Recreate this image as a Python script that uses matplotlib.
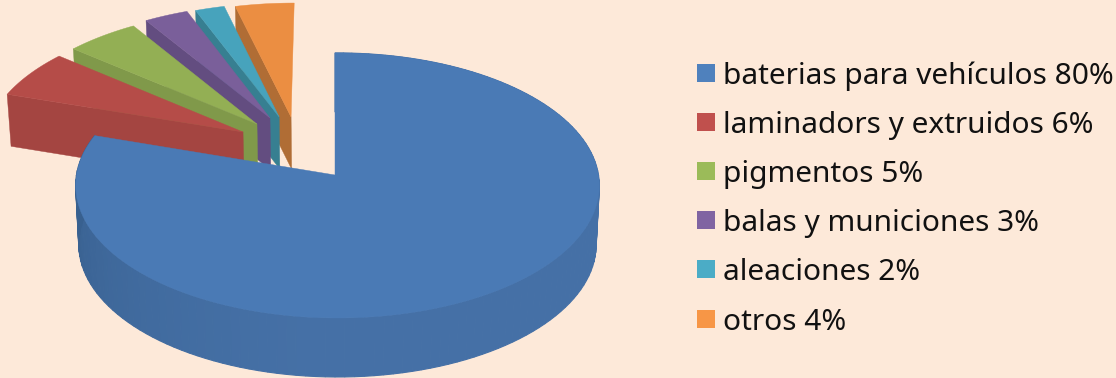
import numpy as np
import matplotlib
matplotlib.use('Agg')
import matplotlib.pyplot as plt
from matplotlib.colors import to_rgb
from matplotlib.patches import Rectangle

labels = ['baterias para vehículos 80%', 'laminadors y extruidos 6%', 'pigmentos 5%',
          'balas y municiones 3%', 'aleaciones 2%', 'otros 4%']
shares = [80, 6, 5, 3, 2, 4]

legend_colors = ['#4F81BD', '#C0504D', '#9BBB59', '#8064A2', '#4BACC6', '#F79646']
top_colors = ['#4A7AB5', '#B54C48', '#93AF54', '#7A5F9A', '#47A3BC', '#EB8E42']
side_colors = ['#4570A6', '#A44541', '#80994A', '#634D80', '#377F91', '#B06D35']

# how far each slice is pulled out, in pie radii (x, y), y goes to the viewer
explode = [(0, 0), (-0.359, -0.335), (-0.306, -0.399), (-0.256, -0.448), (-0.22, -0.456), (-0.173, -0.456)]

bg = '#FDE9D9'
cx, cy = 335, 175
a, b = 131.7, 0.079
squash = 0.988


def project(X, Y, c=263, d=0):
    # simple perspective, far side of the pie gets smaller
    w = 1 - b * Y - d * X
    return cx + c * X / w, cy + a * Y / w


def bottom(x, y, depth):
    return cx + (x - cx) * squash, y + depth


def arc(t0, t1, off, n=60, c=263, d=0):
    t = np.radians(np.linspace(t0, t1, n))
    return project(off[0] + np.sin(t), off[1] - np.cos(t), c, d)


fig = plt.figure(figsize=(11.16, 3.78), dpi=100, facecolor=bg)
ax = fig.add_axes([0, 0, 1, 1])
ax.set_xlim(0, 1116)
ax.set_ylim(378, 0)
ax.axis('off')

angles = np.cumsum([0] + shares) * 3.6

# small slices, the back ones first
for i in range(5, 0, -1):
    off = explode[i]
    x, y = arc(angles[i], angles[i + 1], off)
    ax0, ay0 = project(*off)
    depth = 52
    # cut face on the start edge
    bx0, by0 = bottom(ax0, ay0, depth)
    bx1, by1 = bottom(x[0], y[0], depth)
    ax.fill([x[0], ax0, bx0, bx1], [y[0], ay0, by0, by1], color=side_colors[i], lw=0.3, zorder=6 - i)
    ax.fill(np.r_[ax0, x], np.r_[ay0, y], color=top_colors[i], lw=0.3, zorder=6 - i)

# big slice, side in strips
left_dark = np.array(to_rgb('#38608F'))
mid = np.array(to_rgb(side_colors[0]))
x, y = arc(angles[0], angles[1], explode[0], n=145, c=261, d=0.0095)
bx, by = bottom(x, y, 59)
th = np.linspace(angles[0], angles[1], 145)
for j in range(144):
    k = np.clip((th[j] - 180) / 90, 0, 1)
    col = mid + (left_dark - mid) * k ** 1.5
    ax.fill([x[j], x[j + 1], bx[j + 1], bx[j]], [y[j], y[j + 1], by[j + 1], by[j]],
            color=col, lw=0.8, zorder=10)
ax0, ay0 = project(0, 0)
ax.fill(np.r_[ax0, x], np.r_[ay0, y], color=top_colors[0], lw=0.3, zorder=11)

# legend
for i, lab in enumerate(labels):
    yy = 72.5 + i * 49.2
    ax.add_patch(Rectangle((697, yy - 9), 18, 18, fc=legend_colors[i], ec='none'))
    ax.text(723, yy, lab, fontsize=21.5, family='Noto Sans', color='#111111', va='center_baseline')

fig.savefig('out.png', dpi=100, facecolor=bg)
